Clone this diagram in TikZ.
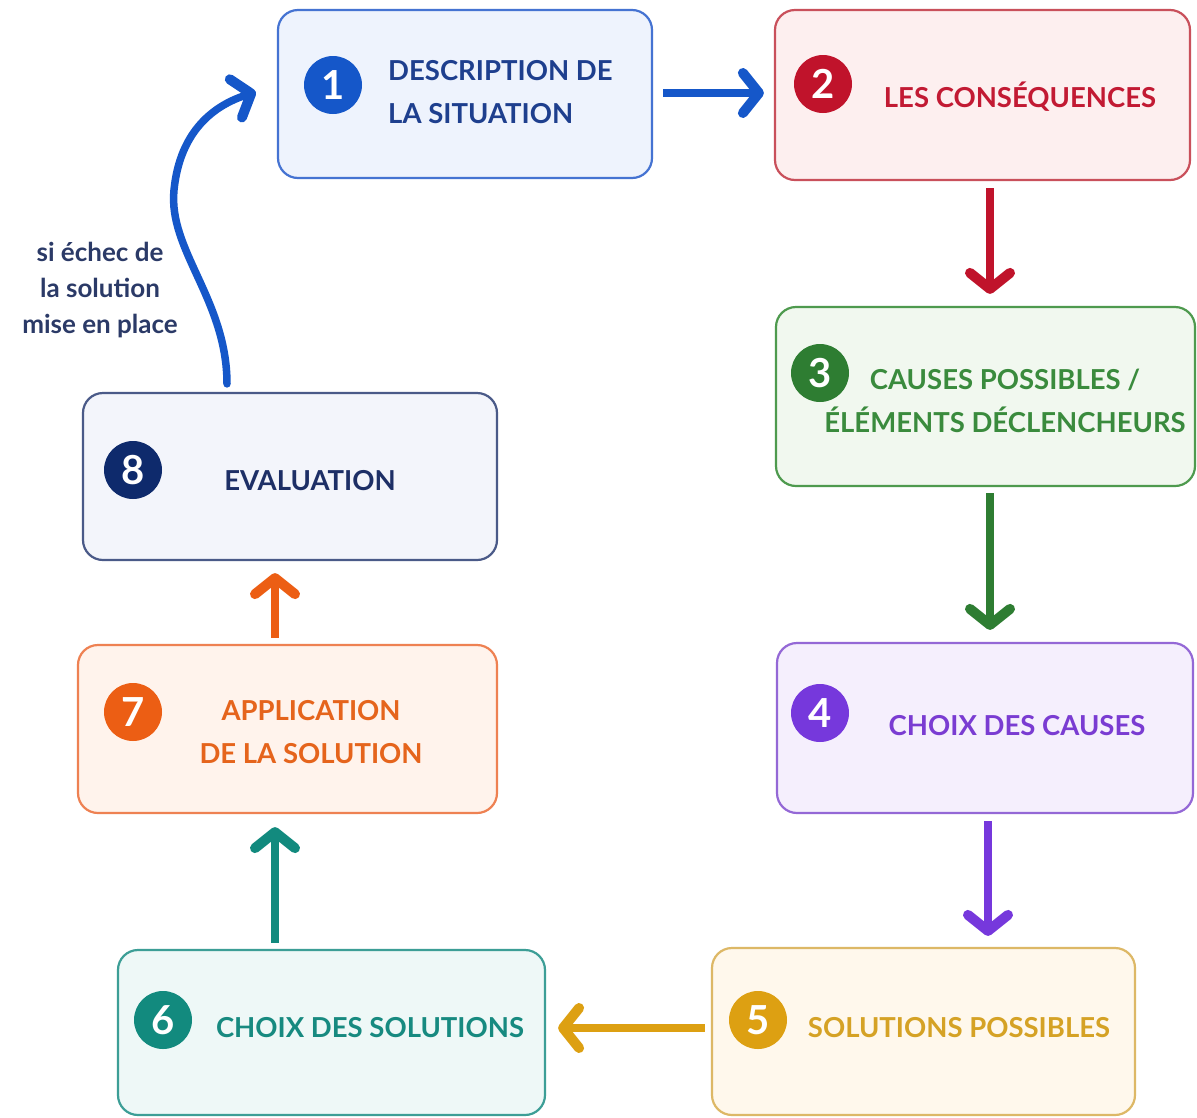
\documentclass[tikz,border=0pt]{standalone}
\usepackage{fontspec}
\setmainfont{Lato}
\usetikzlibrary{arrows.meta}
\definecolor{ca}{HTML}{1557C9}\definecolor{ta}{HTML}{1E3F8E}\definecolor{fa}{HTML}{EEF3FD}\definecolor{da}{HTML}{4573D2}
\definecolor{cb}{HTML}{C0132B}\definecolor{tb}{HTML}{C21A33}\definecolor{fb}{HTML}{FDEFEF}\definecolor{db}{HTML}{C9505B}
\definecolor{cc}{HTML}{2E7D32}\definecolor{tc}{HTML}{3A8B3D}\definecolor{fc}{HTML}{F1F8EF}\definecolor{dc}{HTML}{4E9A4E}
\definecolor{cd}{HTML}{7638DC}\definecolor{td}{HTML}{7A3CD2}\definecolor{fd}{HTML}{F5EFFD}\definecolor{dd}{HTML}{9468D6}
\definecolor{ce}{HTML}{DDA012}\definecolor{te}{HTML}{D5A225}\definecolor{fe}{HTML}{FFF8EC}\definecolor{de}{HTML}{DDB866}
\definecolor{cf}{HTML}{128A7E}\definecolor{tf}{HTML}{178A80}\definecolor{ff}{HTML}{EEF8F7}\definecolor{df}{HTML}{3C9E96}
\definecolor{cg}{HTML}{EC5E14}\definecolor{tg}{HTML}{E5641C}\definecolor{fg}{HTML}{FFF3EC}\definecolor{dg}{HTML}{EE8152}
\definecolor{ch}{HTML}{0E2A6C}\definecolor{th}{HTML}{1D2F66}\definecolor{fh}{HTML}{F3F5FB}\definecolor{dh}{HTML}{4A5A88}
\definecolor{lab}{HTML}{2B3A67}
\begin{document}
\begin{tikzpicture}[x=1pt,y=-1pt,
  box/.style={draw, rounded corners=20pt, line width=2.2pt, inner sep=0pt},
  num/.style={circle, inner sep=0pt, minimum size=58pt, text=white, font=\fontsize{40}{40}\selectfont\bfseries},
  lbl/.style={font=\fontsize{27.5}{43}\selectfont\bfseries, align=center, inner sep=0pt},
  arr/.style={line width=7.5pt, -{Straight Barb[length=16pt,width=40pt,line width=10pt,round]}}
]
\useasboundingbox (0,0) rectangle (1197,1117);
\fill[white] (0,0) rectangle (1197,1117);

% boxes
\node[box, draw=da, fill=fa, minimum width=374pt, minimum height=168pt] (b1) at (465,94) {};
\node[box, draw=db, fill=fb, minimum width=415pt, minimum height=170pt] (b2) at (982.5,95) {};
\node[box, draw=dc, fill=fc, minimum width=419pt, minimum height=179pt] (b3) at (985.5,396.5) {};
\node[box, draw=dd, fill=fd, minimum width=416pt, minimum height=170pt] (b4) at (985,728) {};
\node[box, draw=de, fill=fe, minimum width=423pt, minimum height=167pt] (b5) at (923.5,1031.5) {};
\node[box, draw=df, fill=ff, minimum width=427pt, minimum height=165pt] (b6) at (331.5,1032.5) {};
\node[box, draw=dg, fill=fg, minimum width=419pt, minimum height=168pt] (b7) at (287.5,729) {};
\node[box, draw=dh, fill=fh, minimum width=414pt, minimum height=167pt] (b8) at (290,476.5) {};

% number circles
\node[num, fill=ca] (c1) at (333,85) {1};
\node[num, fill=cb] (c2) at (823,84) {2};
\node[num, fill=cc] (c3) at (820,373) {3};
\node[num, fill=cd] (c4) at (820,713) {4};
\node[num, fill=ce] (c5) at (758,1020) {5};
\node[num, fill=cf] (c6) at (163,1020) {6};
\node[num, fill=cg] (c7) at (133,712) {7};
\node[num, fill=ch] (c8) at (133,470) {8};

% texts
\node[lbl, text=ta, anchor=west, align=left] (t1) at (388,92) {DESCRIPTION DE\\LA SITUATION};
\node[lbl, text=tb] (t2) at (1020,97) {LES CONSÉQUENCES};
\node[lbl, text=tc] (t3) at (1005,401) {CAUSES POSSIBLES /\\ÉLÉMENTS DÉCLENCHEURS};
\node[lbl, text=td] (t4) at (1017,726) {CHOIX DES CAUSES};
\node[lbl, text=te] (t5) at (959,1028) {SOLUTIONS POSSIBLES};
\node[lbl, text=tf] (t6) at (370,1028) {CHOIX DES SOLUTIONS};
\node[lbl, text=tg] (t7) at (311,732) {APPLICATION\\DE LA SOLUTION};
\node[lbl, text=th] (t8) at (310,481) {EVALUATION};
\node[font=\fontsize{26}{36}\selectfont\bfseries, text=lab, align=center, inner sep=0pt] (note) at (100,290) {si échec de\\la solution\\mise en place};

% connectors
\draw[arr, ca] ([xshift=10pt,yshift=1pt]b1.east) -- ([xshift=-10pt,yshift=2pt]b2.west);
\draw[arr, cb] ([xshift=7.5pt,yshift=-7pt]b2.south) -- ([xshift=4.5pt,yshift=12pt]b3.north);
\draw[arr, cc] ([xshift=4.5pt,yshift=-6pt]b3.south) -- ([xshift=5pt,yshift=12pt]b4.north);
\draw[arr, cd] ([xshift=3pt,yshift=-7pt]b4.south) -- ([xshift=64.5pt,yshift=11pt]b5.north);
\draw[arr, ce] ([xshift=-6pt,yshift=3.5pt]b5.west) -- ([xshift=12pt,yshift=4.5pt]b6.east);
\draw[arr, cf] ([xshift=-56.5pt,yshift=6pt]b6.north) -- ([xshift=-12.5pt,yshift=-13pt]b7.south);
\draw[arr, cg] ([xshift=-12.5pt,yshift=6pt]b7.north) -- ([xshift=-15pt,yshift=-12pt]b8.south);
\draw[arr, ca, line cap=round] ([xshift=-63pt,yshift=8pt]b8.north)
   .. controls (227,300) and (168,250) .. (174,190)
   .. controls (180,130) and (215,105) .. ([xshift=-21pt,yshift=2pt]b1.west);
\end{tikzpicture}
\end{document}
